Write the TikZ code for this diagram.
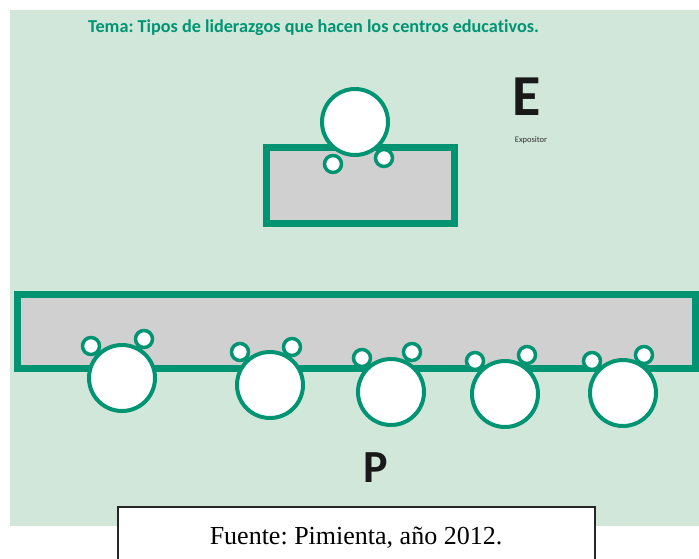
\documentclass[tikz,border=0pt]{standalone}
\usepackage{fontspec}
\setmainfont{Liberation Serif}
\newfontfamily\calibri[Ligatures=NoCommon]{Carlito}
\frenchspacing

\definecolor{fondo}{RGB}{209,231,218}
\definecolor{verde}{RGB}{0,148,115}
\definecolor{gris}{RGB}{208,208,208}

\tikzset{
    mesa/.style={draw=verde, fill=gris, line width=7pt},
    cabeza/.style={circle, draw=verde, fill=white, line width=4pt, minimum size=66pt, inner sep=0pt},
    mano/.style={circle, draw=verde, fill=white, line width=3.5pt, minimum size=17pt, inner sep=0pt},
    letra/.style={font=\calibri\bfseries, text=black!90, anchor=base, inner sep=0pt}
}

\begin{document}
\begin{tikzpicture}[x=1pt, y=-1pt]
    % Page and background
    \useasboundingbox (0,0) rectangle (699,558);
    \fill[white] (0,0) rectangle (699,558);
    \fill[fondo] (10,10) rectangle (699,525.5);

    % Title
    \node[font=\calibri\bfseries\fontsize{18.2}{21}\selectfont, text=verde, anchor=base, inner sep=0pt] (tema) at (313.5,32) {Tema: Tipos de liderazgos que hacen los centros educativos.};

    % Expositor table and person
    \draw[mesa] (266.5,147.5) rectangle (454.5,223.5);
    \node[cabeza] (cE) at (355,122) {};
    \node[mano] (iE) at (333,164) {};
    \node[mano] (dE) at (384,158) {};

    % Labels E and Expositor
    \node[letra, font=\calibri\bfseries\fontsize{58}{60}\selectfont] (E) at (526.5,115) {E};
    \node[font=\calibri\fontsize{8.5}{9}\selectfont, text=black!80, inner sep=0pt] (expositor) at (531,140) {Expositor};

    % Participants bench
    \draw[mesa] (17.5,294.5) rectangle (695,368.5);

    % Participant 1
    \node[cabeza] (c1) at (122,378) {};
    \node[mano] (i1) at (91,346) {};
    \node[mano] (d1) at (144,339) {};

    % Participant 2
    \node[cabeza] (c2) at (270,385) {};
    \node[mano] (i2) at (240,352) {};
    \node[mano] (d2) at (292,347) {};

    % Participant 3
    \node[cabeza] (c3) at (391,392) {};
    \node[mano] (i3) at (362,358) {};
    \node[mano] (d3) at (412,352) {};

    % Participant 4
    \node[cabeza] (c4) at (505,394) {};
    \node[mano] (i4) at (475,361) {};
    \node[mano] (d4) at (527,355) {};

    % Participant 5
    \node[cabeza] (c5) at (623,393) {};
    \node[mano] (i5) at (592,361) {};
    \node[mano] (d5) at (644,355) {};

    % Label P
    \node[letra, font=\calibri\bfseries\fontsize{46}{48}\selectfont] (P) at (375.5,482) {P};

    % Source caption
    \draw[black!85, line width=1.2pt, fill=white] (118,507) rectangle (595,570);
    \node[font=\fontsize{26}{30}\selectfont, anchor=base, inner sep=0pt] (fuente) at (356,544) {Fuente: Pimienta, año 2012.};
\end{tikzpicture}
\end{document}
